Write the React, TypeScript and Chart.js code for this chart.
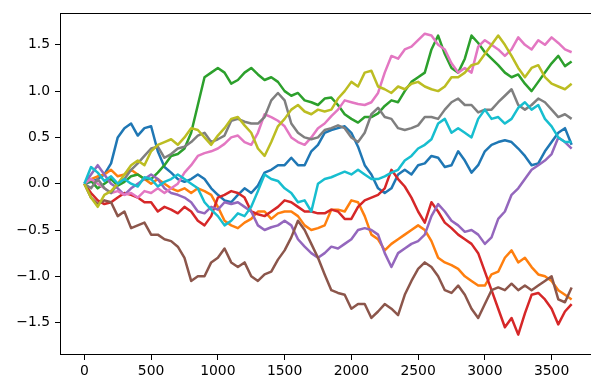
import { useEffect, useRef } from "react";
import { Chart, registerables } from "chart.js";

Chart.register(...registerables);

// Sample day index for every value below (one reading every 50 days).
const DAYS: number[] = Array.from({ length: 74 }, (_, i) => i * 50);

const X_TICKS = [0, 500, 1000, 1500, 2000, 2500, 3000, 3500];
const Y_TICKS = [-1.5, -1.0, -0.5, 0.0, 0.5, 1.0, 1.5];

// Ten cumulative walks, one row per 500 days.
const walk0 = [
  0, 0.02, 0.05, 0.1, 0.22, 0.5, 0.6, 0.65, 0.52, 0.6,
  0.62, 0.35, 0.18, 0.12, 0.05, 0.02, 0.05, 0.1, 0.05, -0.05,
  -0.12, -0.18, -0.2, -0.12, -0.05, -0.1, -0.02, 0.12, 0.15, 0.2,
  0.2, 0.28, 0.2, 0.2, 0.35, 0.42, 0.55, 0.58, 0.6, 0.62,
  0.55, 0.4, 0.2, 0.1, -0.05, -0.1, -0.05, 0.1, 0.15, 0.1,
  0.2, 0.22, 0.3, 0.28, 0.18, 0.2, 0.35, 0.25, 0.12, 0.2,
  0.35, 0.42, 0.45, 0.47, 0.45, 0.38, 0.3, 0.2, 0.22, 0.35,
  0.45, 0.55, 0.6, 0.42,
];
const walk1 = [
  0, 0.05, 0.08, 0.1, 0.15, 0.08, 0.1, 0.15, 0.1, 0.05,
  0.0, 0.05, 0.0, -0.05, -0.08, -0.05, -0.1, -0.05, -0.08, -0.12,
  -0.25, -0.4, -0.45, -0.48, -0.42, -0.38, -0.3, -0.3, -0.38, -0.32,
  -0.3, -0.3, -0.35, -0.45, -0.5, -0.48, -0.45, -0.28, -0.28, -0.3,
  -0.18, -0.2, -0.35, -0.55, -0.6, -0.72, -0.65, -0.6, -0.55, -0.5,
  -0.45, -0.5, -0.62, -0.8, -0.85, -0.88, -0.92, -1.0, -1.05, -1.1,
  -1.1, -0.98, -0.95, -0.8, -0.72, -0.85, -0.8, -0.9, -0.98, -1.0,
  -1.05, -1.15, -1.2, -1.25,
];
const walk2 = [
  0, 0.03, -0.05, 0.0, 0.05, -0.02, 0.02, 0.08, 0.1, 0.05,
  0.05, 0.12, 0.2, 0.3, 0.32, 0.38, 0.55, 0.85, 1.15, 1.2,
  1.25, 1.2, 1.08, 1.12, 1.2, 1.25, 1.18, 1.12, 1.15, 1.1,
  1.0, 0.95, 0.98, 0.9, 0.88, 0.85, 0.92, 0.93, 0.85, 0.75,
  0.7, 0.66, 0.72, 0.72, 0.76, 0.84, 0.9, 0.88, 1.0, 1.1,
  1.15, 1.2, 1.45, 1.6, 1.4, 1.25, 1.2, 1.35, 1.6, 1.52,
  1.42, 1.35, 1.28, 1.2, 1.15, 1.18, 1.08, 1.0, 1.1, 1.2,
  1.3, 1.38, 1.27, 1.32,
];
const walk3 = [
  0, -0.1, -0.18, -0.22, -0.2, -0.15, -0.1, -0.12, -0.15, -0.2,
  -0.2, -0.3, -0.25, -0.28, -0.32, -0.25, -0.3, -0.4, -0.45, -0.35,
  -0.15, -0.12, -0.08, -0.1, -0.15, -0.3, -0.33, -0.35, -0.3, -0.25,
  -0.18, -0.2, -0.25, -0.3, -0.3, -0.32, -0.32, -0.28, -0.3, -0.38,
  -0.38, -0.25, -0.18, -0.15, -0.12, -0.05, 0.15, 0.05, -0.03, -0.15,
  -0.3, -0.42, -0.2, -0.3, -0.42, -0.48, -0.55, -0.6, -0.65, -0.75,
  -0.95, -1.15, -1.35, -1.55, -1.45, -1.63, -1.4, -1.2, -1.18, -1.25,
  -1.35, -1.52, -1.38, -1.3,
];
const walk4 = [
  0, 0.1, 0.2, 0.1, 0.0, -0.05, -0.12, -0.05, 0.0, 0.05,
  0.1, 0.05, -0.05, -0.1, -0.12, -0.15, -0.2, -0.3, -0.32, -0.25,
  -0.28, -0.2, -0.22, -0.2, -0.25, -0.3, -0.45, -0.5, -0.47, -0.45,
  -0.4, -0.45, -0.6, -0.68, -0.75, -0.8, -0.75, -0.68, -0.7, -0.65,
  -0.6, -0.5, -0.48, -0.5, -0.55, -0.75, -0.9, -0.75, -0.7, -0.65,
  -0.62, -0.55, -0.35, -0.22, -0.3, -0.4, -0.45, -0.52, -0.5, -0.55,
  -0.65, -0.58, -0.38, -0.3, -0.12, -0.05, 0.05, 0.15, 0.2, 0.25,
  0.32, 0.5, 0.45, 0.38,
];
const walk5 = [
  0, -0.15, -0.22, -0.18, -0.2, -0.35, -0.3, -0.48, -0.45, -0.42,
  -0.55, -0.55, -0.6, -0.62, -0.68, -0.8, -1.05, -1.0, -1.0, -0.85,
  -0.8, -0.7, -0.85, -0.9, -0.85, -1.0, -1.05, -0.98, -0.95, -0.82,
  -0.72, -0.58, -0.4, -0.5, -0.65, -0.8, -0.98, -1.15, -1.18, -1.2,
  -1.35, -1.3, -1.3, -1.45, -1.38, -1.3, -1.35, -1.42, -1.2, -1.05,
  -0.92, -0.85, -0.9, -1.0, -1.15, -1.18, -1.1, -1.2, -1.35, -1.45,
  -1.3, -1.15, -1.12, -1.15, -1.08, -1.15, -1.1, -1.15, -1.1, -1.05,
  -1.0, -1.25, -1.28, -1.12,
];
const walk6 = [
  0, 0.05, 0.0, -0.05, -0.1, -0.08, -0.12, -0.1, -0.15, -0.08,
  -0.1, -0.05, -0.1, -0.05, 0.0, 0.12, 0.2, 0.3, 0.33, 0.35,
  0.38, 0.43, 0.5, 0.52, 0.45, 0.42, 0.55, 0.75, 0.72, 0.68,
  0.62, 0.5, 0.45, 0.42, 0.5, 0.6, 0.65, 0.73, 0.8, 0.9,
  0.88, 0.86, 0.85, 0.88, 0.98, 1.2, 1.38, 1.35, 1.45, 1.48,
  1.55, 1.62, 1.6, 1.5, 1.45, 1.3, 1.2, 1.25, 1.2, 1.48,
  1.55, 1.5, 1.45, 1.38, 1.45, 1.58, 1.5, 1.45, 1.55, 1.5,
  1.58, 1.52, 1.45, 1.42,
];
const walk7 = [
  0, -0.05, 0.05, -0.05, -0.1, 0.0, 0.05, 0.15, 0.22, 0.3,
  0.38, 0.4, 0.28, 0.32, 0.38, 0.4, 0.45, 0.52, 0.55, 0.45,
  0.48, 0.52, 0.68, 0.7, 0.67, 0.65, 0.65, 0.72, 0.9, 0.98,
  0.9, 0.65, 0.55, 0.5, 0.48, 0.5, 0.58, 0.6, 0.63, 0.6,
  0.5, 0.45, 0.55, 0.75, 0.82, 0.72, 0.7, 0.6, 0.58, 0.6,
  0.63, 0.72, 0.72, 0.7, 0.8, 0.88, 0.92, 0.85, 0.85, 0.77,
  0.8, 0.8, 0.88, 0.95, 1.02, 0.85, 0.8, 0.85, 0.92, 0.88,
  0.8, 0.72, 0.75, 0.7,
];
const walk8 = [
  0, -0.15, -0.25, -0.12, -0.08, 0.0, 0.1, 0.2, 0.25, 0.2,
  0.35, 0.42, 0.45, 0.48, 0.42, 0.5, 0.6, 0.58, 0.5, 0.42,
  0.52, 0.6, 0.7, 0.72, 0.63, 0.55, 0.38, 0.3, 0.45, 0.62,
  0.7, 0.8, 0.85, 0.78, 0.75, 0.8, 0.78, 0.8, 0.92, 1.0,
  1.1, 1.05, 1.2, 1.22, 1.05, 1.02, 0.98, 1.05, 1.02, 1.08,
  1.1, 1.05, 1.02, 1.0, 1.05, 1.15, 1.15, 1.2, 1.28, 1.3,
  1.4, 1.5, 1.6, 1.5, 1.38, 1.25, 1.15, 1.25, 1.28, 1.15,
  1.08, 1.05, 1.02, 1.08,
];
const walk9 = [
  0, 0.18, 0.12, 0.03, 0.08, 0.0, 0.05, 0.0, -0.03, 0.07,
  0.05, -0.03, 0.02, 0.05, 0.1, 0.05, 0.0, -0.05, -0.2, -0.28,
  -0.35, -0.45, -0.4, -0.32, -0.35, -0.25, -0.08, 0.1, 0.05, 0.03,
  -0.05, -0.1, -0.2, -0.18, -0.3, 0.0, 0.05, 0.07, 0.1, 0.13,
  0.1, 0.15, 0.1, 0.05, 0.05, 0.08, 0.12, 0.15, 0.25, 0.3,
  0.38, 0.42, 0.48, 0.65, 0.7, 0.55, 0.6, 0.55, 0.5, 0.7,
  0.8, 0.7, 0.72, 0.65, 0.7, 0.82, 0.88, 0.8, 0.85, 0.7,
  0.62, 0.5, 0.45, 0.45,
];

const WALKS = [walk0, walk1, walk2, walk3, walk4, walk5, walk6, walk7, walk8, walk9];

const COLORS = [
  "#1f77b4", "#ff7f0e", "#2ca02c", "#d62728", "#9467bd",
  "#8c564b", "#e377c2", "#7f7f7f", "#bcbd22", "#17becf",
];

const FONT = { family: "'DejaVu Sans', sans-serif", size: 13.9 };

const fmt = (v: number, digits: number) =>
  v.toFixed(digits).replace("-", "\u2212");

// Axes frame drawn above the lines, like matplotlib spines.
const framePlugin = {
  id: "frame",
  afterDatasetsDraw(chart: any) {
    const { ctx, chartArea: a } = chart;
    ctx.save();
    ctx.strokeStyle = "#000";
    ctx.lineWidth = 1;
    const l = Math.floor(a.left) + 0.5;
    const t = Math.floor(a.top) + 0.5;
    const b = Math.floor(a.bottom) + 0.5;
    const r = Math.floor(a.right) + 0.5;
    ctx.strokeRect(l, t, r - l, b - t);
    ctx.restore();
  },
};

export default function App() {
  const canvasRef = useRef<HTMLCanvasElement | null>(null);

  useEffect(() => {
    const canvas = canvasRef.current;
    if (!canvas) return;

    const datasets = WALKS.map((values, i) => ({
      label: `walk ${i}`,
      data: values.map((y, k) => ({ x: DAYS[k], y })),
      borderColor: COLORS[i],
      backgroundColor: COLORS[i],
      borderWidth: 2.5,
      pointRadius: 0,
      tension: 0,
      borderJoinStyle: "round" as const,
      fill: false,
      order: WALKS.length - 1 - i,
    }));

    const last = DAYS[DAYS.length - 1];
    const chart = new Chart(canvas, {
      type: "line",
      data: { datasets },
      options: {
        animation: false,
        responsive: false,
        devicePixelRatio: 1,
        events: [],
        layout: { padding: { left: 0, top: 6, right: 4, bottom: 0 } },
        plugins: { legend: { display: false }, tooltip: { enabled: false } },
        scales: {
          x: {
            type: "linear",
            min: -0.05 * last,
            max: 1.05 * last,
            afterFit: (s: any) => {
              s.height = 26;
            },
            afterBuildTicks: (s: any) => {
              s.ticks = X_TICKS.map((value) => ({ value }));
            },
            grid: {
              drawOnChartArea: false,
              drawTicks: true,
              tickLength: 5,
              color: "#000",
              lineWidth: 1,
            },
            border: { display: false },
            ticks: {
              autoSkip: false,
              maxRotation: 0,
              padding: 3,
              color: "#000",
              font: FONT,
              callback: (v: any) => fmt(Number(v), 0),
            },
          },
          y: {
            type: "linear",
            min: -1.85,
            max: 1.84,
            afterFit: (s: any) => {
              s.width = 60;
            },
            afterBuildTicks: (s: any) => {
              s.ticks = Y_TICKS.map((value) => ({ value }));
            },
            grid: {
              drawOnChartArea: false,
              drawTicks: true,
              tickLength: 5,
              color: "#000",
              lineWidth: 1,
            },
            border: { display: false },
            ticks: {
              autoSkip: false,
              padding: 5,
              color: "#000",
              font: FONT,
              callback: (v: any) => fmt(Number(v), 1),
            },
          },
        },
      },
      plugins: [framePlugin],
    });

    return () => chart.destroy();
  }, []);

  return (
    <div
      style={{
        position: "fixed",
        left: 0,
        top: 0,
        width: 591,
        height: 381,
        overflow: "hidden",
        background: "#fff",
      }}
    >
      <canvas ref={canvasRef} width={600} height={381} style={{ display: "block" }} />
    </div>
  );
}
